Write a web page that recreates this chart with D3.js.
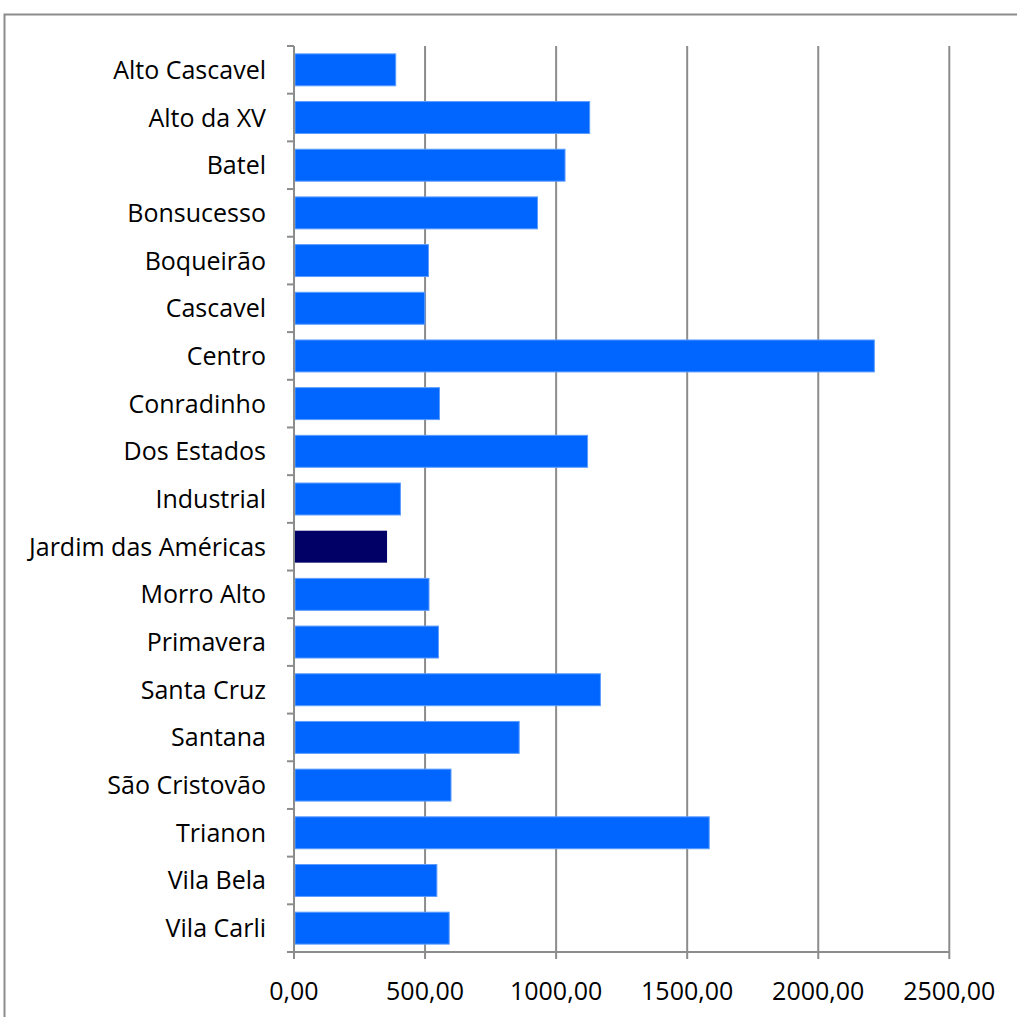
<!DOCTYPE html>
<html><head><meta charset="utf-8">
<script src="https://cdn.jsdelivr.net/npm/d3@7"></script>
<style>
html,body{margin:0;padding:0;background:#fff;}
svg{display:block;}
</style></head>
<body>
<svg id="chart" width="1017" height="1017"></svg>
<script>
const categories = ["Alto Cascavel","Alto da XV","Batel","Bonsucesso","Boqueirão","Cascavel","Centro","Conradinho","Dos Estados","Industrial","Jardim das Américas","Morro Alto","Primavera","Santa Cruz","Santana","São Cristovão","Trianon","Vila Bela","Vila Carli"];
const values = [388,1128,1034,929,513,499,2214,555,1120,406,355,515,551,1169,859,599,1584,545,592];
const highlighted = ["Jardim das Américas"];
const xTicks = [0,500,1000,1500,2000,2500];

(function(){
const svg = d3.select("#chart");
const fontFamily = "'Open Sans', Lato, sans-serif";

svg.append("rect").attr("x",4.5).attr("y",14.5).attr("width",1030).attr("height",1030)
  .attr("fill","none").attr("stroke","#8c8c8c").attr("stroke-width",2);

const pLeft = 294, pRight = 949.3, pTop = 46, pBottom = 952;
const x = d3.scaleLinear().domain([0,2500]).range([pLeft,pRight]);
const y = d3.scaleBand().domain(categories).range([pTop,pBottom]).paddingInner(0.33).paddingOuter(0.165);
const yEdges = d3.scaleLinear().domain([0,categories.length]).range([pTop,pBottom]);

svg.append("g").selectAll("line").data(xTicks.slice(1)).join("line")
  .attr("x1",d=>x(d)).attr("x2",d=>x(d)).attr("y1",pTop).attr("y2",pBottom+7)
  .attr("stroke","#8c8c8c").attr("stroke-width",2);

svg.append("g").selectAll("rect").data(categories).join("rect")
  .attr("x",x(0)+1).attr("y",d=>y(d))
  .attr("width",(d,i)=>x(values[i])-x(0)-1).attr("height",y.bandwidth())
  .attr("fill",d=>highlighted.includes(d)?"#000066":"#0066ff")
  .attr("stroke",d=>highlighted.includes(d)?"none":"#5c9dff").attr("stroke-width",1);

svg.append("line").attr("x1",pLeft).attr("x2",pLeft).attr("y1",pTop).attr("y2",pBottom)
  .attr("stroke","#8c8c8c").attr("stroke-width",2);
svg.append("g").selectAll("line").data(d3.range(categories.length+1)).join("line")
  .attr("x1",pLeft-7).attr("x2",pLeft).attr("y1",d=>yEdges(d)).attr("y2",d=>yEdges(d))
  .attr("stroke","#8c8c8c").attr("stroke-width",2);

svg.append("line").attr("x1",pLeft-7).attr("x2",pRight).attr("y1",pBottom).attr("y2",pBottom)
  .attr("stroke","#8c8c8c").attr("stroke-width",2);
svg.append("line").attr("x1",pLeft).attr("x2",pLeft).attr("y1",pBottom).attr("y2",pBottom+7)
  .attr("stroke","#8c8c8c").attr("stroke-width",2);

const fmt = v => d3.format(".2f")(v).replace(".",",");
svg.append("g").selectAll("text").data(xTicks).join("text")
  .attr("x",d=>x(d)).attr("y",pBottom+48)
  .attr("text-anchor","middle").attr("font-family",fontFamily).attr("font-size",25)
  .attr("fill","#000").text(fmt);

svg.append("g").selectAll("text").data(categories).join("text")
  .attr("x",266).attr("y",d=>y(d)+y.bandwidth()/2).attr("dy","0.36em")
  .attr("text-anchor","end").attr("font-family",fontFamily).attr("font-size",25)
  .attr("fill","#000").text(d=>d);
})();
</script>
</body></html>
